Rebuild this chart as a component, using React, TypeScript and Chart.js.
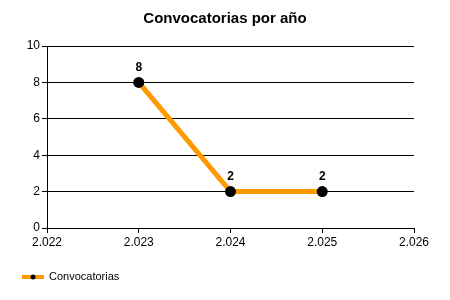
import React, { useEffect, useRef } from "react";
import { Chart, registerables } from "chart.js";

Chart.register(...registerables);

const years = [2023, 2024, 2025];
const counts = [8, 2, 2];
const xTickValues = [2022, 2023, 2024, 2025, 2026];
const xTickLabels = ["2.022", "2.023", "2.024", "2.025", "2.026"];
const seriesName = "Convocatorias";
const chartTitle = "Convocatorias por año";

const FONT = "'Liberation Sans', Arial, sans-serif";
const ORANGE = "#FF9900";

const overlayPlugin = {
  id: "overlay",
  afterDatasetsDraw(chart: any) {
    const ctx = chart.ctx;
    const meta = chart.getDatasetMeta(0);
    ctx.save();
    // data labels
    ctx.fillStyle = "#000";
    ctx.font = `bold 12px ${FONT}`;
    ctx.textAlign = "center";
    ctx.textBaseline = "middle";
    meta.data.forEach((pt: any, i: number) => {
      ctx.fillText(String(counts[i]), pt.x, pt.y - 15);
    });
    // title
    ctx.font = `bold 15px ${FONT}`;
    ctx.fillText(chartTitle, 225, 19);
    // legend
    ctx.strokeStyle = ORANGE;
    ctx.lineWidth = 4;
    ctx.beginPath();
    ctx.moveTo(22, 277);
    ctx.lineTo(44, 277);
    ctx.stroke();
    ctx.fillStyle = "#000";
    ctx.beginPath();
    ctx.arc(33, 277, 2.5, 0, Math.PI * 2);
    ctx.fill();
    ctx.font = `11px ${FONT}`;
    ctx.textAlign = "left";
    ctx.fillText(seriesName, 49, 277);
    ctx.restore();
  },
};

export default function App() {
  const ref = useRef<HTMLCanvasElement>(null);
  useEffect(() => {
    if (!ref.current) return;
    const chart = new Chart(ref.current, {
      type: "line",
      data: {
        datasets: [
          {
            label: seriesName,
            data: years.map((y, i) => ({ x: y, y: counts[i] })),
            borderColor: ORANGE,
            backgroundColor: "#000",
            borderWidth: 5,
            pointRadius: 5.5,
            pointBackgroundColor: "#000",
            pointBorderColor: "#000",
            pointBorderWidth: 0,
            tension: 0,
          },
        ],
      },
      options: {
        responsive: false,
        animation: false,
        layout: { padding: { top: 46, right: 36, bottom: 40, left: 0 } },
        plugins: {
          legend: { display: false },
          title: { display: false },
          tooltip: { enabled: false },
        },
        scales: {
          x: {
            type: "linear",
            min: 2022,
            max: 2026,
            afterFit(scale: any) {
              scale.height = 32;
            },
            afterBuildTicks(scale: any) {
              scale.ticks = xTickValues.map((v) => ({ value: v }));
            },
            ticks: {
              color: "#000",
              font: { family: FONT, size: 12 },
              padding: 2,
              maxRotation: 0,
              callback: (v: any) => {
                const idx = xTickValues.indexOf(Number(v));
                return idx >= 0 ? xTickLabels[idx] : "";
              },
            },
            grid: {
              display: true,
              drawOnChartArea: false,
              drawTicks: true,
              tickLength: 5,
              color: "#000",
            },
            border: { display: true, color: "#000", width: 1 },
          },
          y: {
            min: 0,
            max: 10,
            afterFit(scale: any) {
              scale.width = 47;
            },
            ticks: {
              stepSize: 2,
              color: "#000",
              font: { family: FONT, size: 12 },
              padding: 2,
            },
            grid: {
              color: "#000",
              drawTicks: true,
              tickLength: 5,
              lineWidth: 1,
            },
            border: { display: true, color: "#000", width: 1 },
          },
        },
      },
      plugins: [overlayPlugin],
    } as any);
    return () => chart.destroy();
  }, []);
  return (
    <div style={{ position: "fixed", left: 0, top: 0, width: 450, height: 300, background: "#fff" }}>
      <canvas ref={ref} width={450} height={300} />
    </div>
  );
}
